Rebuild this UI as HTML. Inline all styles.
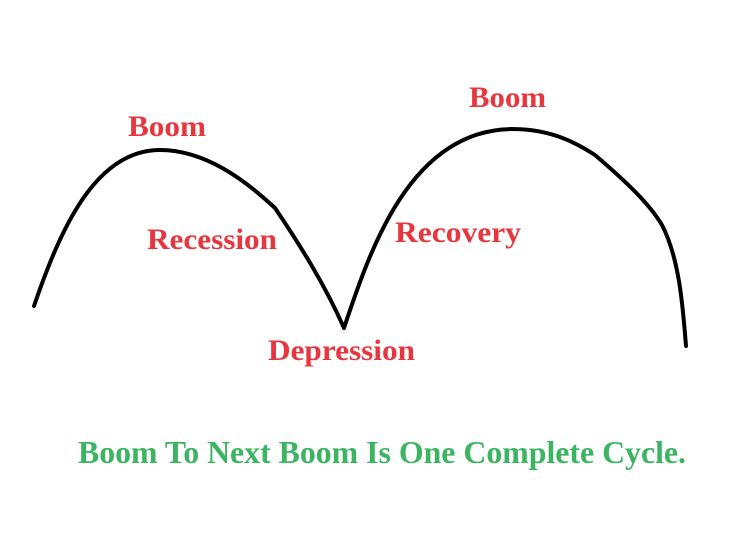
<!DOCTYPE html>
<html><head><style>html,body{margin:0;padding:0;background:#fff;width:754px;height:540px;overflow:hidden}</style></head>
<body>
<svg width="754" height="540" viewBox="0 0 754 540" xmlns="http://www.w3.org/2000/svg">
<path d="M34,306 C60,230 95,150 160,150 C205,150 245,180 275,208 C300,245 325,285 344,328 C370,250 410,130 512,129 C550,129 575,142 595,155 C630,185 650,205 662,225 C680,260 683,310 686,346" fill="none" stroke="#000" stroke-width="4" stroke-linecap="round" stroke-linejoin="round"/>
<g font-family="Liberation Serif, serif" font-weight="bold" fill="#e8363f" font-size="30">
<text x="128" y="136" textLength="78" lengthAdjust="spacingAndGlyphs">Boom</text>
<text x="147" y="249" textLength="130" lengthAdjust="spacingAndGlyphs">Recession</text>
<text x="268" y="360" textLength="147" lengthAdjust="spacingAndGlyphs">Depression</text>
<text x="395" y="242" textLength="126" lengthAdjust="spacingAndGlyphs">Recovery</text>
<text x="469" y="107" textLength="77" lengthAdjust="spacingAndGlyphs">Boom</text>
</g>
<text x="78" y="463" font-family="Liberation Serif, serif" font-weight="bold" font-size="32" fill="#3cb563" textLength="608" lengthAdjust="spacingAndGlyphs">Boom To Next Boom Is One Complete Cycle.</text>
</svg>
</body></html>
